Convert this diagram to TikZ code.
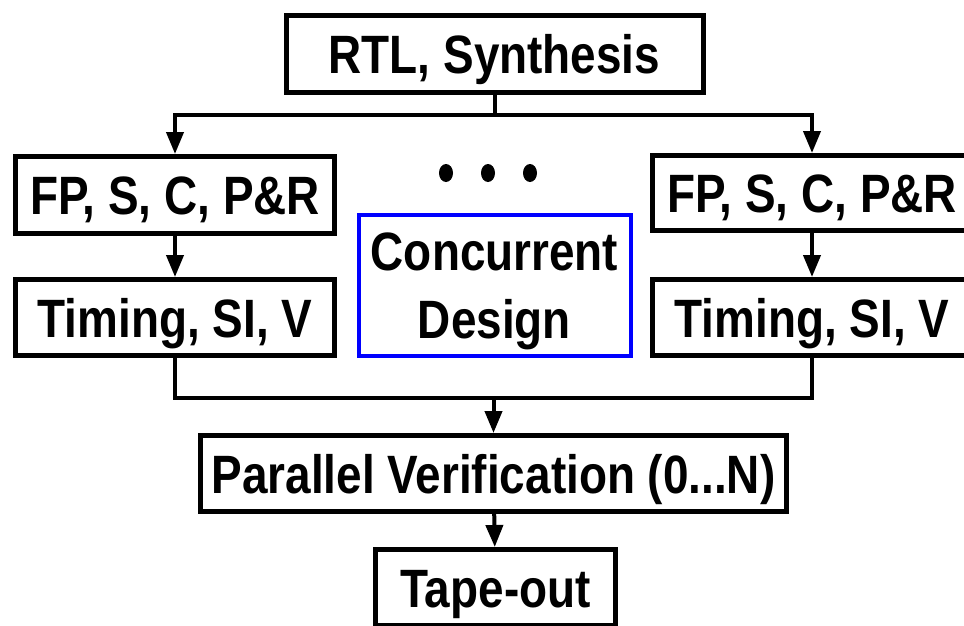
\documentclass[tikz,border=0pt]{standalone}
\usepackage{fontspec}
\setmainfont{Liberation Sans}[FakeStretch=0.85]
\usetikzlibrary{arrows.meta}
\tikzset{
  flowbox/.style={draw, line width=5pt, inner sep=0pt, text height=39pt, text depth=0pt,
    font=\fontsize{54}{68}\selectfont\bfseries},
  arr/.style={line width=4pt, -{Triangle[length=22pt,width=17pt]}},
  conn/.style={line width=4pt},
}
\begin{document}
\begin{tikzpicture}[x=1pt,y=-1pt]
\useasboundingbox (0,0) rectangle (964,625);
\clip (0,0) rectangle (964,625);
% flow boxes
\node[flowbox, minimum width=417pt, minimum height=77pt] (rtl) at (494.5,53.5) {RTL, Synthesis};
\node[flowbox, minimum width=319pt, minimum height=77pt] (fpL) at (175,195) {FP, S, C, P\&R};
\node[flowbox, minimum width=319pt, minimum height=76pt] (timL) at (175,317.5) {Timing, SI, V};
\node[flowbox, minimum width=319pt, minimum height=75pt] (fpR) at (812,193) {FP, S, C, P\&R};
\node[flowbox, minimum width=319pt, minimum height=76pt] (timR) at (812,317.5) {Timing, SI, V};
\node[flowbox, draw=blue, line width=4pt, align=center, text height=107pt,
  minimum width=272pt, minimum height=141pt] (conc) at (494.5,285) {Concurrent\\Design};
\node[flowbox, minimum width=586pt, minimum height=76pt] (par) at (493.5,473.5) {Parallel Verification (0...N)};
\node[flowbox, minimum width=240pt, minimum height=76pt] (tape) at (495.5,587.5) {Tape-out};
% dots
\fill (446,173) ellipse (7 and 9);
\fill (488,173) ellipse (7 and 9);
\fill (530,173) ellipse (7 and 9);
% connectors
\coordinate (split) at (494.5,115);
\coordinate (join) at (493.5,398);
\draw[conn] (rtl.south) -- (split);
\draw[arr] (split) -| (fpL.north);
\draw[arr] (split) -| (fpR.north);
\draw[arr] (fpL) -- (timL);
\draw[arr] (fpR) -- (timR);
\draw[conn] (timL.south) |- (join) -| (timR.south);
\draw[arr] (join) -- (par.north);
\draw[arr] (par) -- (tape);
\end{tikzpicture}
\end{document}
